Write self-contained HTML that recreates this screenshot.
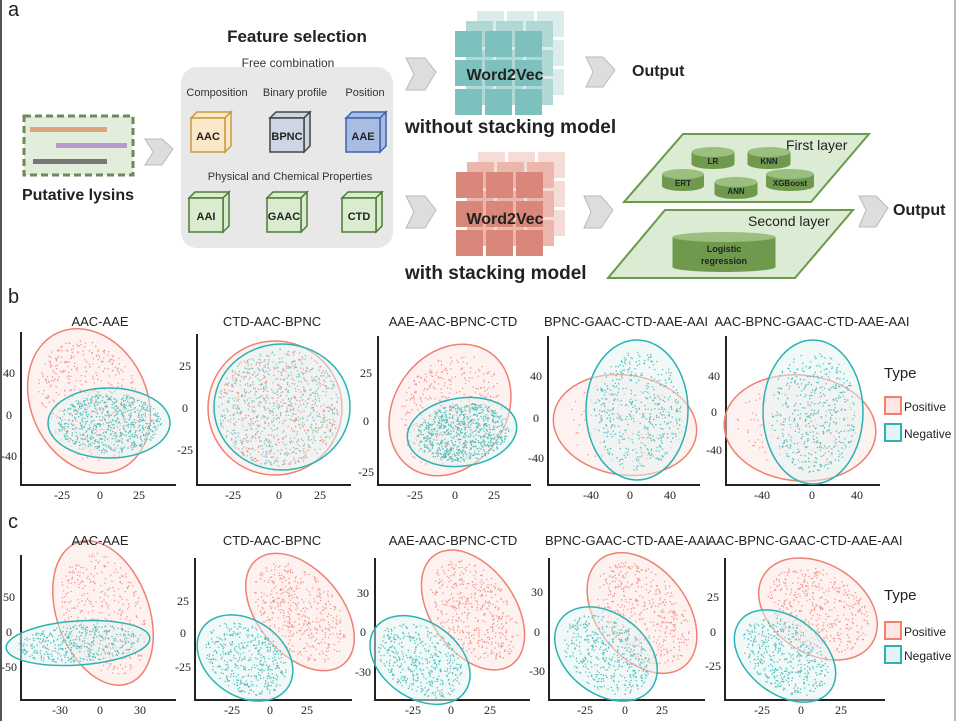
<!DOCTYPE html>
<html><head><meta charset="utf-8"><style>
body{margin:0;background:#fff}
svg{display:block;font-family:"Liberation Sans",sans-serif}
.ax{stroke:#222;stroke-width:2;fill:none}
.tk{font-family:"Liberation Serif",serif;font-size:12px;fill:#222;text-anchor:middle}
.tt{font-size:13px;fill:#222;text-anchor:middle}
</style></head><body>
<svg id="s" width="958" height="721" viewBox="0 0 958 721" xmlns="http://www.w3.org/2000/svg">
<rect width="958" height="721" fill="#fff"/>
<line x1="1" y1="0" x2="1" y2="721" stroke="#555" stroke-width="2"/>
<line x1="955" y1="0" x2="955" y2="721" stroke="#777" stroke-width="1"/>
<text x="8" y="16" font-size="20" fill="#222">a</text>
<text x="8" y="303" font-size="20" fill="#222">b</text>
<text x="8" y="528" font-size="20" fill="#222">c</text>

<rect x="24" y="116" width="109" height="59" fill="#e3eddb" stroke="#6f8a5a" stroke-width="3" stroke-dasharray="7,4"/>
<rect x="30" y="127" width="77" height="5" fill="#d9a77a"/>
<rect x="56" y="143" width="71" height="5" fill="#b89ad0"/>
<rect x="33" y="159" width="74" height="5" fill="#777"/>
<text x="78" y="200" font-size="16" font-weight="bold" text-anchor="middle" fill="#222">Putative lysins</text>

<g fill="#ddd" stroke="#bbb" stroke-width="1">
<path d="M145 139 L162 139 L173 149 L162 165 L145 165 L153 152 Z"/>
<path d="M406 58 L425 58 L436 72 L425 90 L406 90 L414 74 Z"/>
<path d="M406 196 L425 196 L436 210 L425 228 L406 228 L414 212 Z"/>
<path d="M586 57 L603 57 L615 70 L603 87 L586 87 L593 72 Z"/>
<path d="M584 196 L601 196 L613 210 L601 228 L584 228 L591 212 Z"/>
<path d="M859 196 L876 196 L888 208 L876 227 L859 227 L866 210 Z"/>
</g>

<rect x="181" y="67" width="212" height="181" rx="16" fill="#e8e8e8"/>
<text x="297" y="42" font-size="17" font-weight="bold" text-anchor="middle" fill="#222">Feature selection</text>
<text x="288" y="67" font-size="12" text-anchor="middle" fill="#333">Free combination</text>
<g font-size="11" fill="#333" text-anchor="middle">
<text x="217" y="96">Composition</text><text x="295" y="96">Binary profile</text><text x="365" y="96">Position</text>
<text x="290" y="180">Physical and Chemical Properties</text>
</g>
<g id="cubes" font-size="11" font-weight="bold" text-anchor="middle" fill="#222"></g>

<g id="grids"></g>
<text x="505" y="80" font-size="16" font-weight="bold" text-anchor="middle" fill="#222">Word2Vec</text>
<text x="505" y="224" font-size="16" font-weight="bold" text-anchor="middle" fill="#222">Word2Vec</text>
<text x="405" y="133" font-size="19" font-weight="bold" fill="#222">without stacking model</text>
<text x="405" y="279" font-size="19" font-weight="bold" fill="#222">with stacking model</text>
<text x="632" y="76" font-size="16" font-weight="bold" fill="#222">Output</text>
<text x="893" y="215" font-size="16" font-weight="bold" fill="#222">Output</text>

<polygon points="683,134 869,134 811,202 624,202" fill="#dcebd3" stroke="#6a9a4a" stroke-width="2"/>
<polygon points="665,210 853,210 795,278 608,278" fill="#dcebd3" stroke="#6a9a4a" stroke-width="2"/>
<text x="786" y="150" font-size="14" fill="#222">First layer</text>
<text x="748" y="226" font-size="14" fill="#222">Second layer</text>
<g id="cyl" font-size="8" font-weight="bold" text-anchor="middle" fill="#222"></g>

<g id="plots"></g>
<g id="titles"></g>
</svg>
<script>
var NS="http://www.w3.org/2000/svg";
function el(p,t,a,txt){var e=document.createElementNS(NS,t);for(var k in a)e.setAttribute(k,a[k]);if(txt!=null)e.textContent=txt;p.appendChild(e);return e;}
var cb=document.getElementById('cubes');
[[191,112,'AAC','#fbe8c8','#c99a3a'],[270,112,'BPNC','#cfd6e3','#444'],[346,112,'AAE','#a9bde3','#3d62b0'],
 [189,192,'AAI','#d9ecd0','#4e7a35'],[267,192,'GAAC','#d9ecd0','#4e7a35'],[342,192,'CTD','#d9ecd0','#4e7a35']].forEach(function(c){
 var x=c[0],y=c[1],w=34,d=6;
 el(cb,'polygon',{points:(x)+','+(y+d)+' '+(x+d)+','+y+' '+(x+w+d)+','+y+' '+(x+w)+','+(y+d),fill:c[3],stroke:c[4],'stroke-width':1.5});
 el(cb,'polygon',{points:(x+w)+','+(y+d)+' '+(x+w+d)+','+y+' '+(x+w+d)+','+(y+34)+' '+(x+w)+','+(y+40),fill:c[3],stroke:c[4],'stroke-width':1.5});
 el(cb,'rect',{x:x,y:y+d,width:w,height:34,fill:c[3],stroke:c[4],'stroke-width':1.5});
 el(cb,'text',{x:x+w/2,y:y+28},c[2]);
});
var g=document.getElementById('grids');
function grid(x0,y0,cols){
 [[22,-20,cols[2]],[11,-10,cols[1]],[0,0,cols[0]]].forEach(function(l){
  for(var r=0;r<3;r++)for(var c=0;c<3;c++)
   el(g,'rect',{x:x0+l[0]+c*30,y:y0+l[1]+r*29,width:27,height:26,fill:l[2]});
 });
}
grid(455,31,['#7cc1bd','#b0d9d6','#daedec']);
grid(456,172,['#d9877a','#ebb6ac','#f5dcd6']);
var cy=document.getElementById('cyl');
function cyl(cx,cy0,w,h,lab,fs){
 var e=5;
 el(cy,'rect',{x:cx-w/2,y:cy0-h/2,width:w,height:h,fill:'#6f9a4e'});
 el(cy,'ellipse',{cx:cx,cy:cy0+h/2,rx:w/2,ry:e,fill:'#6f9a4e'});
 el(cy,'ellipse',{cx:cx,cy:cy0-h/2,rx:w/2,ry:e,fill:'#9bbf7e'});
 if(Array.isArray(lab)){lab.forEach(function(t,i){el(cy,'text',{x:cx,y:cy0+i*12,'font-size':fs},t);});}
 else el(cy,'text',{x:cx,y:cy0+6,'font-size':fs||8},lab);
}
cyl(713,158,43,12,'LR');cyl(769,158,43,12,'KNN');cyl(683,180,42,12,'ERT');cyl(736,188,43,12,'ANN');cyl(790,180,48,12,'XGBoost');
cyl(724,252,103,30,['Logistic','regression'],9);
var P=document.getElementById('plots'),T=document.getElementById('titles');
var seed=7;function rnd(){seed=(seed*16807)%2147483647;return seed/2147483647;}
var RED='#f08070',TEAL='#2bb3b3';
function ell(cx,cy0,rx,ry,rot,col,fill,n,dcol,fr){
 if(col)el(P,'ellipse',{cx:cx,cy:cy0,rx:rx,ry:ry,transform:'rotate('+rot+' '+cx+' '+cy0+')',fill:fill,'fill-opacity':0.5,stroke:col,'stroke-width':1.5});
 var a=rot*Math.PI/180,s='';
 for(var i=0;i<n;i++){var t=rnd()*6.283,r=Math.sqrt(rnd())*(fr||0.85);var u=Math.cos(t)*rx*r,v=Math.sin(t)*ry*r;
  var x=cx+u*Math.cos(a)-v*Math.sin(a),y=cy0+u*Math.sin(a)+v*Math.cos(a);s+='M'+x.toFixed(1)+' '+y.toFixed(1)+'h1.3v1.3h-1.3z';}
 el(P,'path',{d:s,fill:dcol,'fill-opacity':0.8});
}
function axes(x0,ytop,ybot,x1,title,tx,ty,yt,xt){
 el(P,'path',{d:'M'+x0+' '+ytop+' V'+ybot+' H'+x1,class:'ax'});
 el(T,'text',{x:tx,y:ty,class:'tt'},title);
 yt.forEach(function(t){el(T,'text',{x:x0-12,y:t[1]+4,class:'tk'},t[0]);});
 xt.forEach(function(t){el(T,'text',{x:t[1],y:ybot+14,class:'tk'},t[0]);});
}
var bb=485, by=326;
axes(21,332,bb,176,'AAC-AAE',100,by,[['40',373],['0',415],['-40',456]],[['-25',62],['0',100],['25',139]]);
ell(89,401,58,75,-25,RED,'#fde6e3',450,RED);
ell(109,423,61,35,0,TEAL,'#e2f3f2',650,TEAL);
axes(197,334,bb,351,'CTD-AAC-BPNC',272,by,[['25',366],['0',408],['-25',450]],[['-25',233],['0',279],['25',320]]);
ell(275,408,67,67,0,RED,'#fde6e3',0,RED);
ell(282,407,68,63,0,TEAL,'#e2f3f2',0,TEAL);
ell(278,407,64,62,0,null,'',650,'#6bb',0.95);
ell(278,407,64,62,0,null,'',380,RED,0.95);
axes(378,336,bb,531,'AAE-AAC-BPNC-CTD',453,by,[['25',373],['0',421],['-25',472]],[['-25',415],['0',455],['25',494]]);
ell(450,410,56,70,35,RED,'#fde6e3',400,RED);
ell(462,432,55,34,-8,TEAL,'#e2f3f2',750,TEAL);
axes(548,336,bb,700,'BPNC-GAAC-CTD-AAE-AAI',626,by,[['40',376],['0',418],['-40',458]],[['-40',591],['0',630],['40',670]]);
ell(625,425,72,50,8,RED,'#fde6e3',120,RED);
ell(637,410,51,70,0,TEAL,'#e2f3f2',450,TEAL);
axes(726,336,bb,880,'AAC-BPNC-GAAC-CTD-AAE-AAI',812,by,[['40',376],['0',412],['-40',450]],[['-40',762],['0',812],['40',857]]);
ell(800,428,76,53,5,RED,'#fde6e3',120,RED);
ell(813,412,50,72,0,TEAL,'#e2f3f2',450,TEAL);
var cbt=700, cy2=545;
axes(21,555,cbt,176,'AAC-AAE',100,cy2,[['50',597],['0',632],['-50',667]],[['-30',60],['0',100],['30',140]]);
ell(103,613,46,75,-20,RED,'#fde6e3',380,RED);
ell(78,643,72,22,-4,TEAL,'#e2f3f2',400,TEAL);
axes(195,558,cbt,352,'CTD-AAC-BPNC',272,cy2,[['25',601],['0',633],['-25',667]],[['-25',232],['0',270],['25',307]]);
ell(300,612,68,42,50,RED,'#fde6e3',430,RED);
ell(245,658,52,38,35,TEAL,'#e2f3f2',430,TEAL);
axes(375,558,cbt,530,'AAE-AAC-BPNC-CTD',453,cy2,[['30',593],['0',632],['-30',672]],[['-25',413],['0',451],['25',490]]);
ell(473,610,67,42,55,RED,'#fde6e3',430,RED);
ell(420,660,55,38,35,TEAL,'#e2f3f2',430,TEAL);
axes(549,558,cbt,705,'BPNC-GAAC-CTD-AAE-AAI',627,cy2,[['30',592],['0',632],['-30',671]],[['-25',585],['0',625],['25',662]]);
ell(642,613,68,45,52,RED,'#fde6e3',430,RED);
ell(606,654,57,40,38,TEAL,'#e2f3f2',430,TEAL);
axes(725,558,cbt,885,'AAC-BPNC-GAAC-CTD-AAE-AAI',805,cy2,[['25',597],['0',632],['-25',666]],[['-25',762],['0',801],['25',841]]);
ell(818,609,64,45,32,RED,'#fde6e3',430,RED);
ell(785,656,57,38,38,TEAL,'#e2f3f2',430,TEAL);
[[378],[600]].forEach(function(l,i){var y=l[0];
 el(T,'text',{x:884,y:y,'font-size':15,fill:'#222'},'Type');
 el(T,'rect',{x:885,y:y+(i?22:19),width:16,height:17,fill:'#fde6e3',stroke:RED,'stroke-width':2});
 el(T,'text',{x:904,y:y+(i?36:33),'font-size':12,fill:'#222'},'Positive');
 el(T,'rect',{x:885,y:y+46,width:16,height:17,fill:'#e2f3f2',stroke:TEAL,'stroke-width':2});
 el(T,'text',{x:904,y:y+60,'font-size':12,fill:'#222'},'Negative');
});
</script>
</body></html>
